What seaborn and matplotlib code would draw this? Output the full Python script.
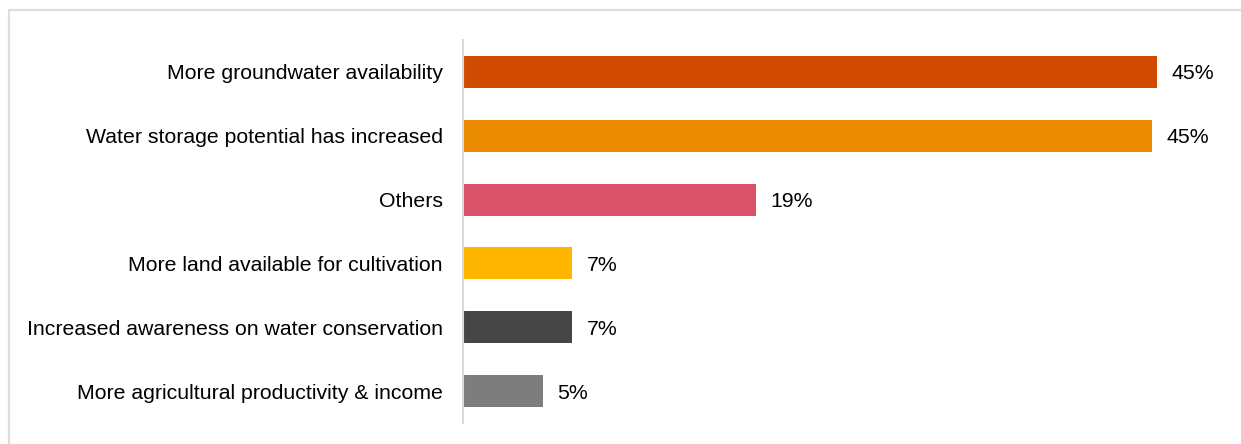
import matplotlib
matplotlib.use("Agg")
import matplotlib.pyplot as plt
from matplotlib.lines import Line2D
import seaborn as sns
import pandas as pd

# Survey responses: perceived benefits (share of respondents, %)
categories = [
    "More groundwater availability",
    "Water storage potential has increased",
    "Others",
    "More land available for cultivation",
    "Increased awareness on water conservation",
    "More agricultural productivity & income",
]
shares = [45.2, 44.9, 19.1, 7.1, 7.1, 5.2]
bar_colors = ["#D04A02", "#EB8C00", "#DB536A", "#FFB600", "#464646", "#7D7D7D"]

df = pd.DataFrame({"benefit": categories, "share": shares})

sns.set_theme(style="white")
plt.rcParams["font.family"] = ["Liberation Sans", "DejaVu Sans"]

W, H = 1241, 444
fig = plt.figure(figsize=(W / 100, H / 100), dpi=100)
ax = fig.add_axes([463 / W, 21 / H, 767.5 / W, 383 / H])

sns.barplot(
    data=df, y="benefit", x="share", hue="benefit",
    palette=bar_colors, order=categories, hue_order=categories,
    width=0.5, orient="h", legend=False, ax=ax, saturation=1,
    linewidth=0,
)

ax.set_xlim(0, 50)
ax.set_ylim(5.5, -0.5)
ax.set_xlabel("")
ax.set_ylabel("")
ax.set_xticks([])
ax.tick_params(axis="y", length=0, pad=14.4, labelsize=15.3, labelcolor="#000000")

for side in ["top", "right", "bottom"]:
    ax.spines[side].set_visible(False)
ax.spines["left"].set_color("#D9D9D9")
ax.spines["left"].set_linewidth(1.5)

for container in ax.containers:
    labels = ax.bar_label(container, fmt=lambda v: f"{v:.0f}%", padding=10.5,
                          fontsize=15.3, color="#000000")
    for lab in labels:
        lab.xyann = (10.5, -1.4)

# light frame along the top and left edges
fig.add_artist(Line2D([9 / W, 1], [1 - 10 / H, 1 - 10 / H],
                      transform=fig.transFigure, color="#DDDDDD", lw=1.6))
fig.add_artist(Line2D([9 / W, 9 / W], [0, 1 - 10 / H],
                      transform=fig.transFigure, color="#DDDDDD", lw=1.6))

fig.savefig("out.png", dpi=100, facecolor="white")
